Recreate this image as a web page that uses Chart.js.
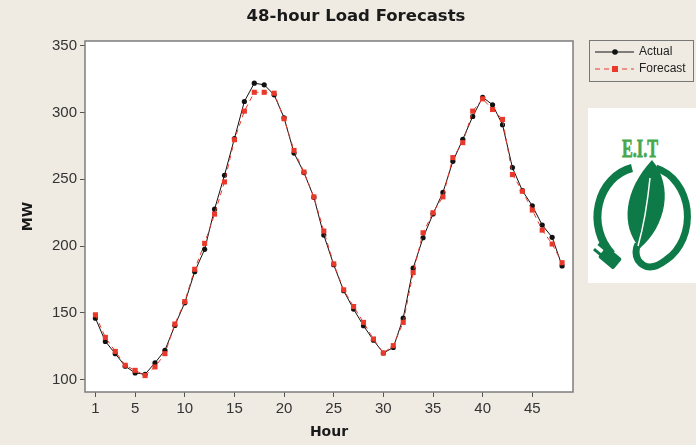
<!DOCTYPE html>
<html>
<head>
<meta charset="utf-8">
<script src="https://cdn.jsdelivr.net/npm/chart.js@4.4.1/dist/chart.umd.min.js"></script>
<style>
  html, body { margin: 0; padding: 0; background: #efebe3; }
  #wrap { position: relative; width: 696px; height: 445px; overflow: hidden; }
  #chart { position: absolute; left: 0; top: 0; }
  #logo { position: absolute; left: 588px; top: 108px; width: 108px; height: 175px; background: #fff; }
</style>
</head>
<body>
<div id="wrap">
  <canvas id="chart" width="696" height="445"></canvas>
  <div id="logo">
    <svg width="108" height="175" viewBox="0 0 108 175">
      <text x="52" y="49" text-anchor="middle" font-family="Liberation Serif" font-weight="bold"
            font-size="25" fill="#47a84a" stroke="#47a84a" stroke-width="0.8"
            textLength="36" lengthAdjust="spacingAndGlyphs">E.I.T</text>
      <path d="M44 60 A44 50 0 0 0 24 146" fill="none" stroke="#0e7a47" stroke-width="8"/>
      <path d="M68 60 A42 50 0 0 1 78 152 Q60 166 50 152 Q46 144 50 136" fill="none" stroke="#0e7a47" stroke-width="7"/>
      <path d="M64 52 C86 78 78 118 52 140 C32 118 36 82 64 52 Z" fill="#0e7a47"/>
      <path d="M62 70 Q58 110 50 138" fill="none" stroke="#fff" stroke-width="1.5"/>
      <g transform="rotate(40 22 150)">
        <rect x="12" y="143" width="20" height="14" rx="2" fill="#0e7a47"/>
        <rect x="4" y="145" width="9" height="3" fill="#0e7a47"/>
        <rect x="4" y="152" width="9" height="3" fill="#0e7a47"/>
      </g>
    </svg>
  </div>
</div>
<script>
'use strict';

const HOURS = [1, 2, 3, 4, 5, 6, 7, 8, 9, 10, 11, 12, 13, 14, 15, 16, 17, 18, 19, 20, 21, 22, 23, 24,
               25, 26, 27, 28, 29, 30, 31, 32, 33, 34, 35, 36, 37, 38, 39, 40, 41, 42, 43, 44, 45, 46, 47, 48];

const ACTUAL = [146, 128.6, 119.4, 110, 105, 104, 112.5, 121.9, 140.5, 157.5, 180.8, 197.5,
                227.6, 253, 280.5, 308.2, 321.9, 320.7, 313.2, 296, 269.6, 255, 236.5, 208.2,
                186, 166.5, 152.8, 140.3, 129.5, 119.9, 124, 146, 183.4, 206.2, 224, 240.1,
                263.4, 279.9, 297, 311.4, 305.7, 290.8, 258.7, 241.5, 230.1, 215.7, 206.5, 185.1];

const FORECAST = [148.5, 131.6, 121.1, 110.7, 106.9, 103, 109.5, 119.4, 141.6, 158.4, 182.6, 202,
                  223.9, 248, 279.6, 301, 315.1, 315.1, 314.4, 295.3, 271.6, 255.4, 236.8, 211.2,
                  186.6, 167.2, 154.7, 142.8, 130.4, 119.9, 125.4, 142.8, 180.1, 209.9, 224.9, 236.8,
                  266.2, 277.4, 301, 310.2, 302.2, 294.8, 253.5, 241, 226.9, 211.9, 201.5, 187.5];

const X_TICKS = [1, 5, 10, 15, 20, 25, 30, 35, 40, 45];
const Y_TICKS = [100, 150, 200, 250, 300, 350];

const RED   = '#e8392a';
const BLACK = '#111111';
const FONT  = 'Liberation Sans, Arial, sans-serif';

const toPoints = vals => HOURS.map((h, i) => ({ x: h, y: vals[i] }));

// white plot area, grey frame and the boxed legend on the right
const frame = {
  id: 'frame',
  beforeDraw(chart) {
    const { ctx, chartArea: a } = chart;
    ctx.save();
    ctx.fillStyle = '#fff';
    ctx.fillRect(a.left, a.top, a.right - a.left, a.bottom - a.top);
    ctx.restore();
  },
  afterDraw(chart) {
    const { ctx, chartArea: a } = chart;
    ctx.save();
    ctx.strokeStyle = '#7d7d7d';
    ctx.lineWidth = 1.5;
    ctx.strokeRect(a.left, a.top, a.right - a.left, a.bottom - a.top);

    // legend
    ctx.lineWidth = 1;
    ctx.strokeStyle = '#777';
    ctx.strokeRect(589.5, 40.5, 104, 41);
    ctx.font = '12px ' + FONT;
    ctx.textBaseline = 'middle';

    ctx.strokeStyle = BLACK;
    ctx.beginPath(); ctx.moveTo(595, 52); ctx.lineTo(634, 52); ctx.stroke();
    ctx.fillStyle = BLACK;
    ctx.beginPath(); ctx.arc(615, 52, 2.8, 0, Math.PI * 2); ctx.fill();
    ctx.fillStyle = '#222';
    ctx.fillText('Actual', 639, 52);

    ctx.strokeStyle = RED;
    ctx.setLineDash([5, 4]);
    ctx.beginPath(); ctx.moveTo(595, 69); ctx.lineTo(634, 69); ctx.stroke();
    ctx.setLineDash([]);
    ctx.fillStyle = RED;
    ctx.fillRect(612, 66, 6, 6);
    ctx.fillStyle = '#222';
    ctx.fillText('Forecast', 639, 69);
    ctx.restore();
  },
};

new Chart(document.getElementById('chart'), {
  type: 'line',
  data: {
    datasets: [
      {
        label: 'Actual',
        data: toPoints(ACTUAL),
        borderColor: BLACK,
        backgroundColor: BLACK,
        borderWidth: 1,
        pointStyle: 'circle',
        pointRadius: 2.6,
        pointBorderWidth: 0,
        tension: 0,
        order: 2,
      },
      {
        label: 'Forecast',
        data: toPoints(FORECAST),
        borderColor: RED,
        backgroundColor: RED,
        borderWidth: 1,
        borderDash: [5, 4],
        pointStyle: 'rect',
        pointRadius: 3.6,
        pointBorderWidth: 0,
        tension: 0,
        order: 1,
      },
    ],
  },
  options: {
    responsive: false,
    animation: false,
    layout: { padding: { left: 16, right: 0, top: 0, bottom: 0 } },
    plugins: {
      legend: { display: false },
      tooltip: { enabled: false },
      title: {
        display: true,
        text: '48-hour Load Forecasts',
        color: '#1a1a1a',
        font: { family: 'DejaVu Sans', size: 16.5, weight: 'bold' },
        padding: { top: 7, bottom: 14.2 },
      },
    },
    scales: {
      x: {
        type: 'linear',
        min: -0.05,
        max: 49.1,
        afterBuildTicks: s => { s.ticks = X_TICKS.map(v => ({ value: v })); },
        afterFit: s => { s.height = 53; },
        grid: { drawOnChartArea: false, drawTicks: true, tickLength: 5, color: '#555' },
        border: { display: false },
        ticks: { color: '#333', font: { family: FONT, size: 15 }, padding: 3, maxRotation: 0, autoSkip: false },
        title: {
          display: true,
          text: 'Hour',
          color: '#1a1a1a',
          font: { family: 'DejaVu Sans', size: 14, weight: 'bold' },
          padding: { top: 2, bottom: 4 },
        },
      },
      y: {
        type: 'linear',
        min: 90.7,
        max: 353.5,
        afterBuildTicks: s => { s.ticks = Y_TICKS.map(v => ({ value: v })); },
        afterFit: s => { s.width = 69; },
        grid: { drawOnChartArea: false, drawTicks: true, tickLength: 5, color: '#555' },
        border: { display: false },
        ticks: { color: '#333', font: { family: FONT, size: 15 }, padding: 3 },
        title: {
          display: true,
          text: 'MW',
          color: '#1a1a1a',
          font: { family: 'DejaVu Sans', size: 14, weight: 'bold' },
          padding: { top: 4, bottom: 4 },
        },
      },
      y2: {
        type: 'linear',
        position: 'right',
        display: true,
        afterFit: s => { s.width = 123; },
        grid: { display: false },
        border: { display: false },
        ticks: { display: false },
      },
    },
  },
  plugins: [frame],
});
</script>
</body>
</html>
